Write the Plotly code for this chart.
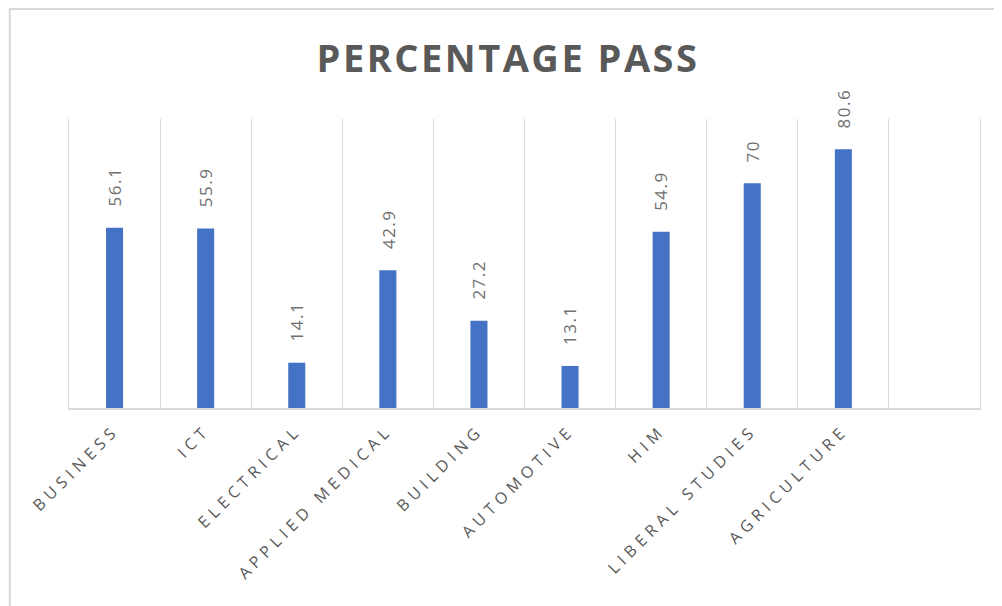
import plotly.graph_objects as go

# data
categories = ['BUSINESS', 'ICT', 'ELECTRICAL', 'APPLIED MEDICAL', 'BUILDING',
              'AUTOMOTIVE', 'HIM', 'LIBERAL STUDIES', 'AGRICULTURE', ' ']
pass_pct = [56.1, 55.9, 14.1, 42.9, 27.2, 13.1, 54.9, 70, 80.6, None]

GREY = '#595959'
LABEL_GREY = '#707070'
GRID = '#D9D9D9'
BLUE = '#4472C4'


def spaced(txt, px):
    return '<span style="letter-spacing:%spx">%s</span>' % (px, txt)


fig = go.Figure()

fig.add_trace(go.Bar(
    x=categories,
    y=pass_pct,
    marker=dict(color=BLUE, line=dict(width=0)),
    hoverinfo='x+y',
))

# rotated value labels above each bar
for cat, val in zip(categories, pass_pct):
    if val is None:
        continue
    fig.add_annotation(
        x=cat, y=val,
        text=spaced('%g' % val, 1.5),
        textangle=-90,
        showarrow=False,
        xanchor='center', yanchor='bottom',
        yshift=19,
        font=dict(family='Open Sans, sans-serif', size=17, color=LABEL_GREY),
    )

# outer chart frame (runs off the right and bottom of the image)
fig.add_shape(
    type='rect', xref='paper', yref='paper',
    x0=-0.065, x1=1.2, y0=-1.0, y1=1.381,
    line=dict(color=GRID, width=2),
    fillcolor='rgba(0,0,0,0)',
    layer='below',
)

fig.update_xaxes(
    type='category',
    categoryorder='array',
    categoryarray=categories,
    range=[-0.5, len(categories) - 0.5],
    tickson='boundaries',
    tickmode='array',
    tickvals=categories,
    ticktext=[spaced(c, 5) if c.strip() else '' for c in categories],
    tickangle=-45,
    ticks='',
    ticklabelstandoff=5,
    tickfont=dict(family='Open Sans, sans-serif', size=16, color=GREY),
    showgrid=True,
    gridcolor=GRID,
    gridwidth=1,
    showline=True,
    linecolor=GRID,
    linewidth=1.5,
    fixedrange=True,
)

fig.update_yaxes(
    range=[0, 90],
    showticklabels=False,
    showgrid=False,
    zeroline=False,
    showline=True,
    mirror=True,
    linecolor=GRID,
    linewidth=1,
    ticks='',
    fixedrange=True,
)

# the page body adds an 8px offset, so margins are trimmed to suit
fig.update_layout(
    width=1002,
    height=606,
    title=dict(
        text=spaced('PERCENTAGE PASS', 2.5),
        x=0.499, xanchor='center',
        y=0.916, yanchor='middle',
        font=dict(family='Open Sans, sans-serif', size=38, color=GREY,
                  weight='bold'),
    ),
    bargap=0.813,
    showlegend=False,
    plot_bgcolor='white',
    paper_bgcolor='white',
    margin=dict(l=61, r=30, t=111, b=206),
)

fig.write_html('out.html')
